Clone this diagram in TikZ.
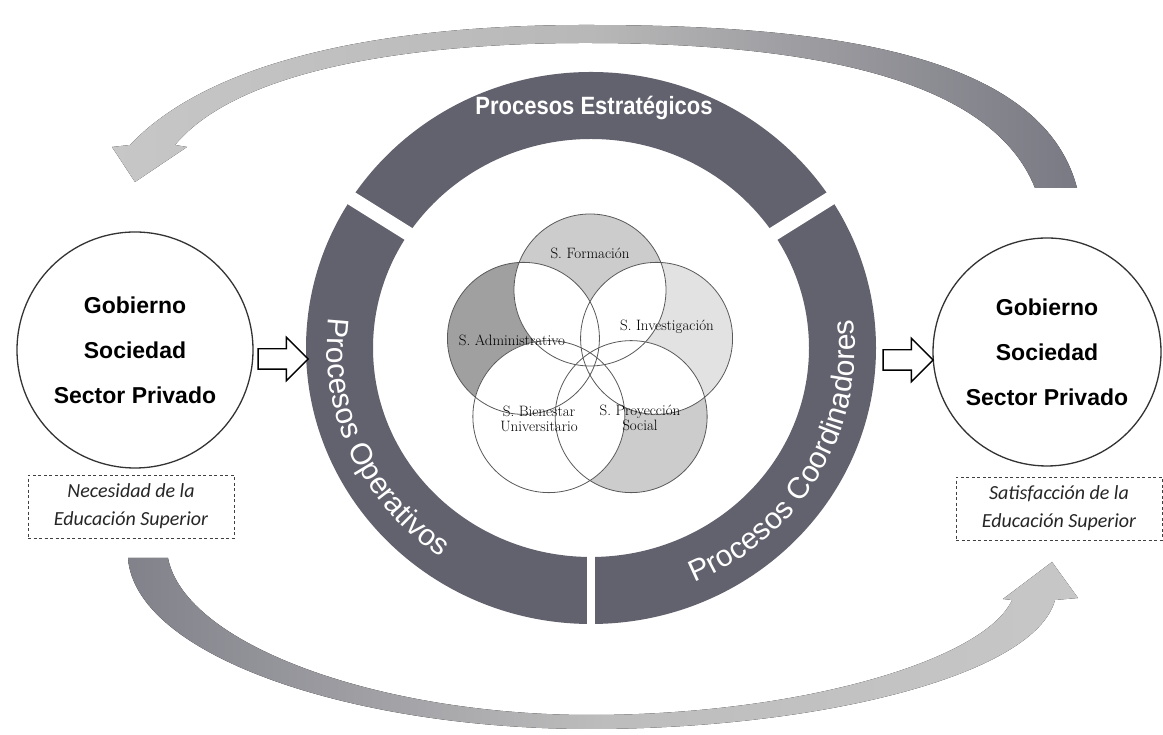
\documentclass[tikz,border=0pt]{standalone}
\usepackage{fontspec}
\usepackage{tikz}
\usetikzlibrary{arrows,positioning,shapes.arrows,decorations.text}

\newfontfamily\arialfont{Liberation Sans}
\newfontfamily\arialnarrow[FakeStretch=0.88]{Liberation Sans}
\newfontfamily\calibrifont{Carlito}
\definecolor{ringgray}{RGB}{98,98,110}
\definecolor{venF}{RGB}{204,204,204}
\definecolor{venA}{RGB}{160,160,160}
\definecolor{venI}{RGB}{226,226,226}
\definecolor{venP}{RGB}{204,204,204}

\tikzset{
  actor/.style={circle,draw=black!80,line width=1.3pt,inner sep=0pt,align=center,
    font=\arialfont\bfseries\fontsize{23}{45}\selectfont},
  needbox/.style={draw=black!75,dash pattern=on 3pt off 2.5pt,line width=0.9pt,
    minimum width=206pt,minimum height=63pt,align=center,text=black!85,
    font=\calibrifont\itshape\fontsize{20}{28}\selectfont},
  hollowarrow/.style={single arrow,draw=black,line width=1.4pt,fill=white,
    inner xsep=0pt,inner ysep=9.5pt,minimum height=50pt,single arrow head extend=11.5pt},
  vennline/.style={draw=black!65,line width=0.8pt},
  sublabel/.style={align=center,text=black,inner sep=1pt,font=\fontsize{15}{15}\selectfont},
  gapline/.style={white,line width=#1},
}

\begin{document}
\begin{tikzpicture}[x=1pt,y=1pt]
  \fill[white] (0,0) rectangle (1163,735);
  \useasboundingbox (0,0) rectangle (1163,735);

  % feedback arrows
  \fill[left color=black!22,right color=ringgray!85,middle color=black!28]
    (112,588) -- (135,553) -- (187,588) -- (175,590)
    .. controls (240,668) and (420,692) .. (585,692)
    .. controls (800,692) and (990,660) .. (1035,547)
    -- (1077,547)
    .. controls (1040,690) and (800,710) .. (585,710)
    .. controls (400,710) and (215,680) .. (130,590) -- cycle;
  \fill[left color=ringgray!80,right color=black!22,middle color=black!26]
    (128,177) .. controls (135,80) and (350,6) .. (590,6)
    .. controls (820,6) and (1035,60) .. (1055,135)
    -- (1078,137) -- (1052,173) -- (1003,136) -- (1012,135)
    .. controls (985,75) and (800,20) .. (590,20)
    .. controls (380,20) and (185,90) .. (168,177) -- cycle;

  % process ring
  \coordinate (ring_c) at (591,387);
  \fill[ringgray,even odd rule] (ring_c) ellipse [x radius=285,y radius=276]
    (ring_c) ellipse [x radius=218,y radius=209];
  \draw[gapline=14pt] (ring_c) ++(148:180) -- ++(148:130);
  \draw[gapline=14pt] (ring_c) ++(32:180) -- ++(32:130);
  \draw[gapline=8pt] (ring_c) ++(270:180) -- ++(270:130);
  \node[text=white,font=\arialnarrow\bfseries\fontsize{25}{25}\selectfont] (estrat) at (594,627) {Procesos Estratégicos};
  \path[decorate,decoration={text along path,text align=center,text color=white,
      text={|\arialfont\fontsize{30}{30}\selectfont|Procesos Operativos}}]
    (ring_c) ++(158:264 and 255) arc [start angle=158,end angle=250,x radius=264,y radius=255];
  \path[decorate,decoration={text along path,text align=center,text color=white,
      text={|\arialfont\fontsize{30}{30}\selectfont|Procesos Coordinadores}}]
    (ring_c) ++(-80:264 and 255) arc [start angle=-80,end angle=20,x radius=264,y radius=255];

  % subsystems
  \coordinate (venn_c) at (590,375);
  \foreach \ang/\col [count=\i] in {90/venF,162/venA,234/white,306/venP,18/venI} {
    \path (venn_c) ++(\ang:70) coordinate (s_\i);
    \fill[\col] (s_\i) circle [radius=76];
  }
  \foreach \i in {1,...,5} {
    \begin{scope}
      \clip (s_\i) circle [radius=76];
      \foreach \j in {1,...,5} {\ifnum\i=\j\else\fill[white] (s_\j) circle [radius=76];\fi}
    \end{scope}
  }
  \foreach \i in {1,...,5} \draw[vennline] (s_\i) circle [radius=76];
  \node[sublabel] (form) at (590,482) {S. Formación};
  \node[sublabel] (admin) at (512,395) {S. Administrativo};
  \node[sublabel] (inves) at (667,408) {S. Investigación};
  \node[sublabel] (bienes) at (539,316) {S. Bienestar\\Universitario};
  \node[sublabel] (proyec) at (640,317) {S. Proyección\\Social};

  % environment
  \node[actor,minimum size=236pt] (gov_in) at (135,385) {Gobierno\\Sociedad\\Sector Privado};
  \node[actor,minimum size=228pt] (gov_out) at (1047,383) {Gobierno\\Sociedad\\Sector Privado};
  \node[needbox,below=6pt of gov_in,xshift=-4pt] (need) {Necesidad de la\\Educación Superior};
  \node[needbox,below=10pt of gov_out,xshift=12pt] (satis) {Satisfacción de la\\Educación Superior};
  \node[hollowarrow] (arr_in) at (278,376) {};
  \node[hollowarrow] (arr_out) at (903,375) {};
\end{tikzpicture}
\end{document}
